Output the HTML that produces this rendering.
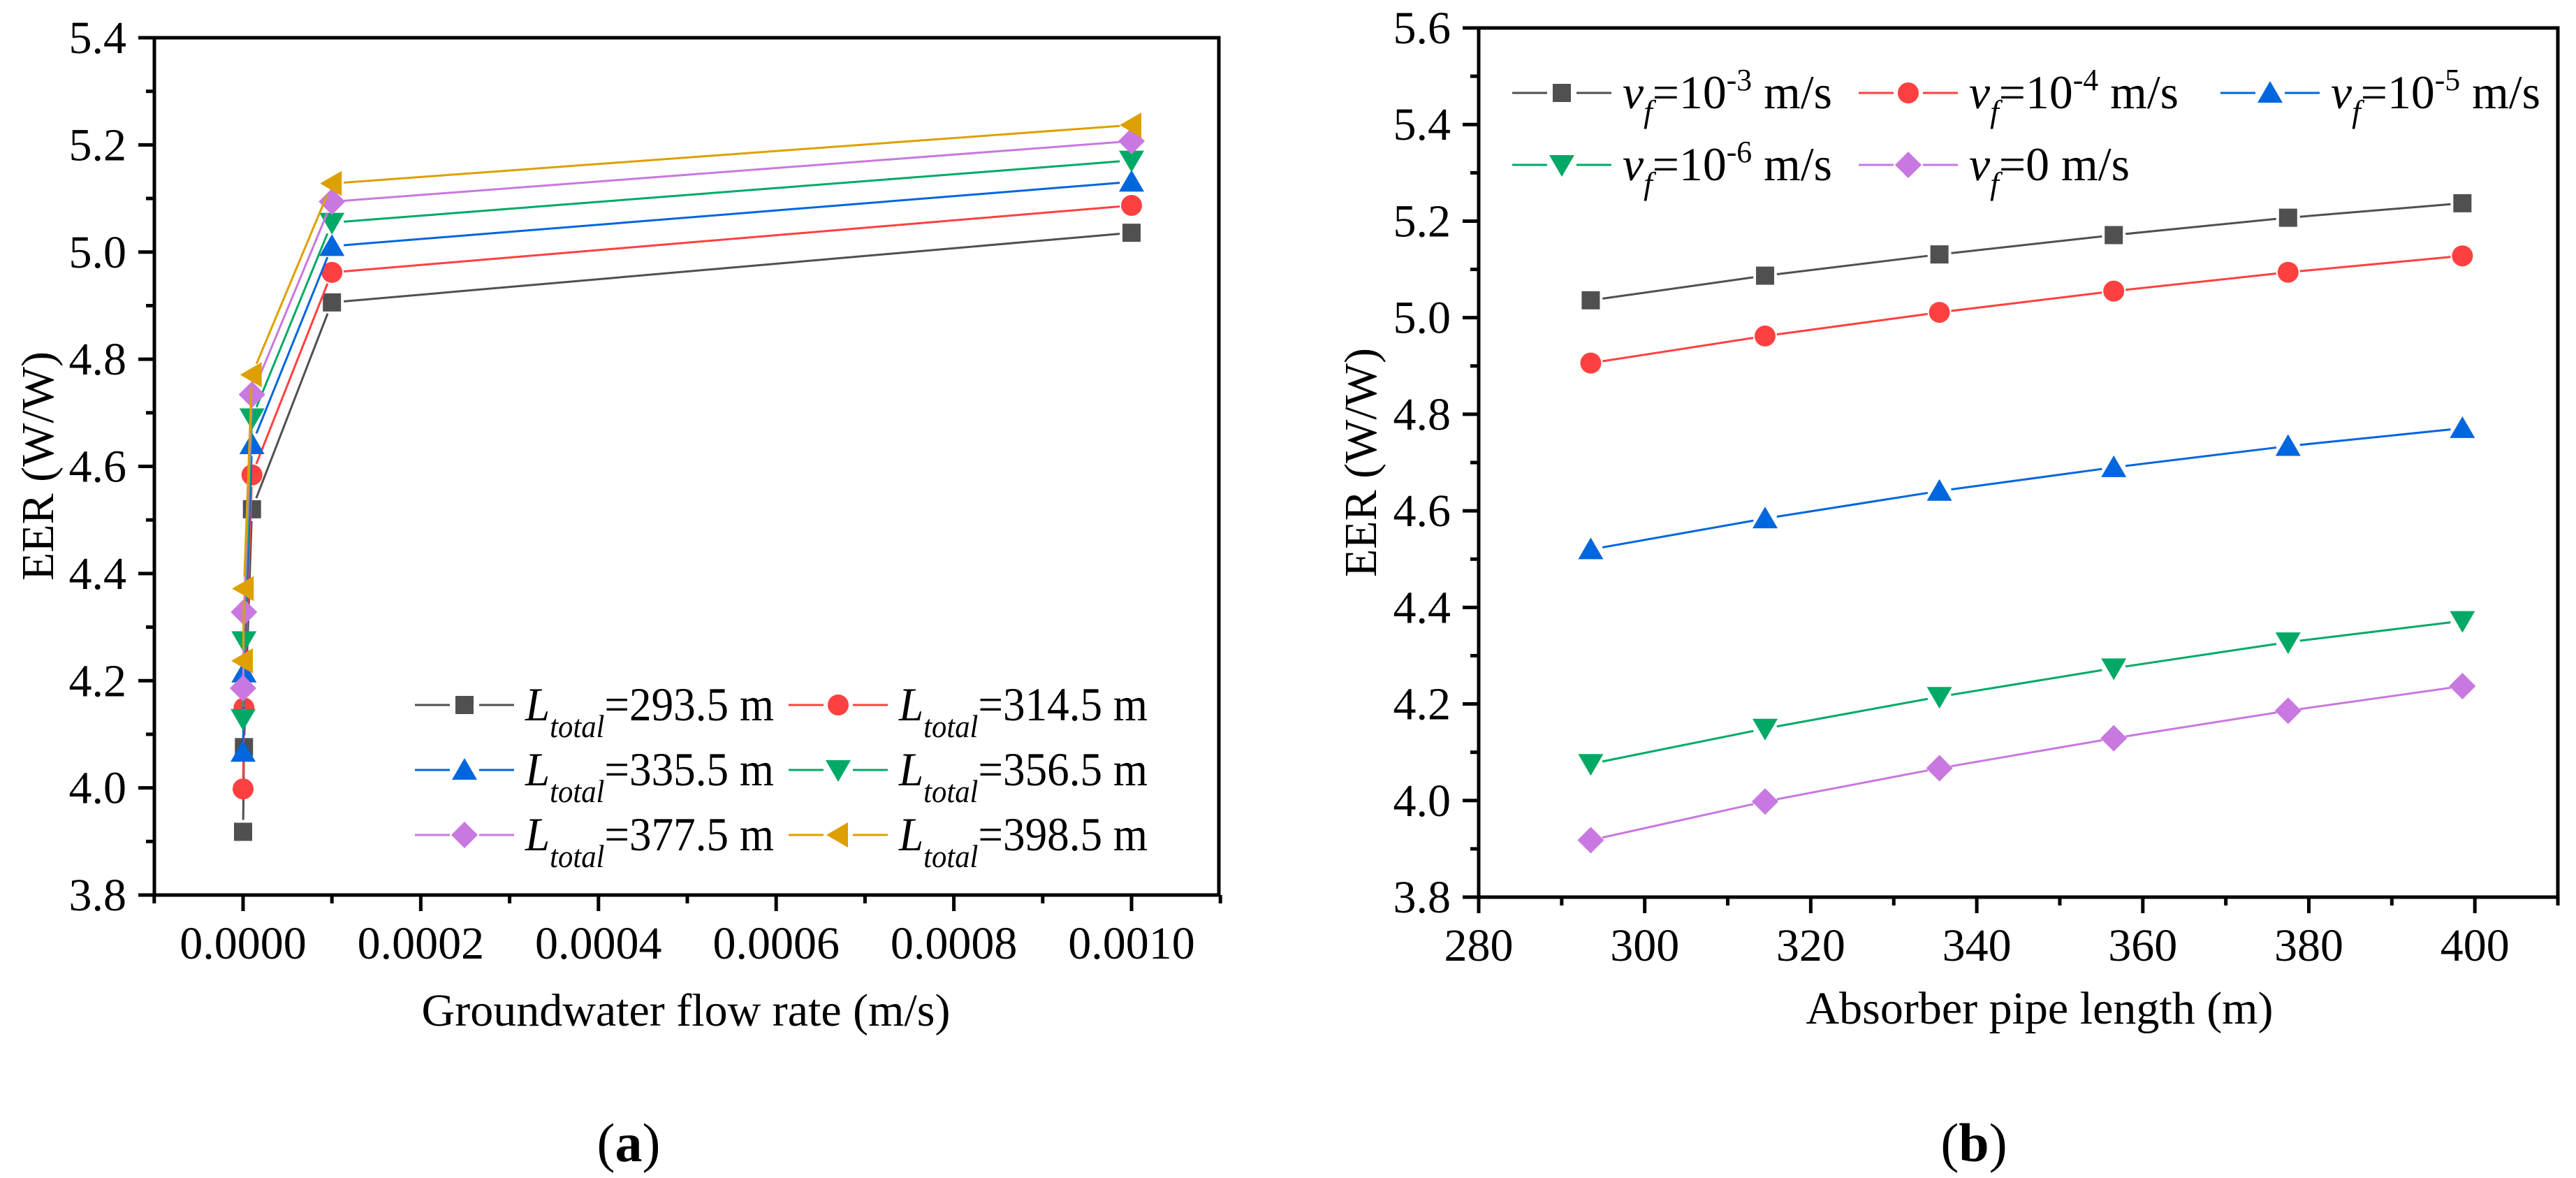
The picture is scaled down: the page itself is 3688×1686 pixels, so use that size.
<!DOCTYPE html>
<html><head><meta charset="utf-8"><style>
html,body{margin:0;padding:0;background:#fff}
svg{display:block}
text{font-family:"Liberation Serif",serif;fill:#000}
</style></head><body>
<svg id="fig" width="3688" height="1686" viewBox="0 0 3688 1686" xmlns="http://www.w3.org/2000/svg">
<rect width="3688" height="1686" fill="#fff"/>
<g id="pa"></g>
<g id="pb"></g>
</svg>
<script>
// ---- data ----
const flowRates = [0, 0.000001, 0.00001, 0.0001, 0.001];
const lengths = [293.5, 314.5, 335.5, 356.5, 377.5, 398.5];
const eerV3 = [5.036, 5.087, 5.131, 5.171, 5.207, 5.237];
const eerV4 = [4.906, 4.962, 5.011, 5.055, 5.094, 5.128];
const eerV5 = [4.520, 4.584, 4.641, 4.690, 4.734, 4.771];
const eerV6 = [4.076, 4.149, 4.215, 4.274, 4.328, 4.372];
const eerV0 = [3.918, 3.998, 4.067, 4.129, 4.186, 4.237];
const xTicksA = ["0.0000","0.0002","0.0004","0.0006","0.0008","0.0010"];
const xTickValsA = [0, 0.0002, 0.0004, 0.0006, 0.0008, 0.001];
const yTicksA = [3.8,4.0,4.2,4.4,4.6,4.8,5.0,5.2,5.4];
const xTicksB = [280,300,320,340,360,380,400];
const yTicksB = [3.8,4.0,4.2,4.4,4.6,4.8,5.0,5.2,5.4,5.6];

const NS="http://www.w3.org/2000/svg";
const colors=["#505050","#FF4040","#0066DD","#00AA66","#C878E0","#DDA000"];
const markers=["square","circle","up","down","diamond","left"];
function el(tag,attrs,parent){const e=document.createElementNS(NS,tag);for(const k in attrs)e.setAttribute(k,attrs[k]);parent.appendChild(e);return e;}
function marker(g,type,cx,cy,color){
  let e;
  if(type==="square") e=el("rect",{x:cx-13,y:cy-13,width:26,height:26,fill:color},g);
  else if(type==="circle") e=el("ellipse",{cx:cx,cy:cy,rx:15,ry:15,fill:color},g);
  else if(type==="up") e=el("polygon",{points:`${cx},${cy-17} ${cx+18},${cy+14} ${cx-18},${cy+14}`,fill:color},g);
  else if(type==="down") e=el("polygon",{points:`${cx},${cy+17} ${cx+18},${cy-14} ${cx-18},${cy-14}`,fill:color},g);
  else if(type==="diamond") e=el("polygon",{points:`${cx},${cy-19} ${cx+19},${cy} ${cx},${cy+19} ${cx-19},${cy}`,fill:color},g);
  else e=el("polygon",{points:`${cx-17},${cy} ${cx+14},${cy-18} ${cx+14},${cy+18}`,fill:color},g);
  
  
  return e;
}
function gapLine(g,pts,color){
  for(let i=0;i<pts.length-1;i++){
    const [x1,y1]=pts[i],[x2,y2]=pts[i+1];
    const d=Math.hypot(x2-x1,y2-y1); if(d<34) continue;
    const ux=(x2-x1)/d,uy=(y2-y1)/d,gp=17;
    const l=el("line",{x1:x1+ux*gp,y1:y1+uy*gp,x2:x2-ux*gp,y2:y2-uy*gp,stroke:color,"stroke-width":3},g);
    
    
  }
}
function axes(g,L,R,T,B,xs,ys,xMin,xMax,xMajor,xMinorStep,yTicks,xTickLabels,xTickVals){
  const fr=el("rect",{x:L,y:T,width:R-L,height:B-T,fill:"none",stroke:"#000","stroke-width":5},g);
  
  
  for(let v=xMin; v<=xMax+1e-12; v+=xMinorStep){
    const x=xs(v); const isMajor=xTickVals.some(t=>Math.abs(t-v)<xMinorStep*0.01);
    el("line",{x1:x,y1:B,x2:x,y2:B+(isMajor?23:12),stroke:"#000","stroke-width":5},g);
  }
  xTickVals.forEach((v,i)=>{
    const t=el("text",{x:xs(v),y:B+91,"font-size":66,"text-anchor":"middle"},g);
    t.textContent=xTickLabels[i];
    
    
  });
  for(let i=0;i<yTicks.length;i++){
    const y=ys(yTicks[i]);
    el("line",{x1:L-23,y1:y,x2:L,y2:y,stroke:"#000","stroke-width":5},g);
    if(i<yTicks.length-1){const ym=ys((yTicks[i]+yTicks[i+1])/2);el("line",{x1:L-12,y1:ym,x2:L,y2:ym,stroke:"#000","stroke-width":5},g);}
    const t=el("text",{x:L-40,y:y+22,"font-size":66,"text-anchor":"end"},g);
    t.textContent=yTicks[i].toFixed(1);
    
    
  }
}
function legendEntry(g,x0,y,color,type,build,len){
  el("line",{x1:x0,y1:y,x2:x0+142,y2:y,stroke:color,"stroke-width":3},g);
  el("rect",{x:x0+50,y:y-22,width:42,height:44,fill:"#fff"},g);
  marker(g,type,x0+71,y,color);
  const attrs={x:x0+158,y:y+22,"font-size":68};
  if(len){attrs.textLength=len;attrs.lengthAdjust="spacingAndGlyphs";}
  const t=el("text",attrs,g);
  
  
  build(t);
}
function ts(t,txt,attrs){const s=el("tspan",attrs||{},t);s.textContent=txt;return s;}

// ---- Panel A ----
(function(){
  const g=document.getElementById("pa");
  const L=221,R=1745,T=54,B=1281;
  const xs=v=>348+(v/0.0001)*127.2;
  const ys=v=>B-(v-3.8)/1.6*(B-T);
  axes(g,L,R,T,B,xs,ys,-0.0001,0.0011,0.0002,0.0001,yTicksA,xTicksA,xTickValsA);
  const series=[eerV0,eerV6,eerV5,eerV4,eerV3];
  for(let s=0;s<lengths.length;s++){
    const sg=el("g",{},g);
    
    
    const pts=flowRates.map((f,i)=>[xs(f),ys(series[i][s])]);
    gapLine(sg,pts,colors[s]);
    pts.forEach(p=>marker(sg,markers[s],p[0],p[1],colors[s]));
  }
  const lg=el("g",{},g);
  
  
  const rows=[1009,1102,1195], cols=[594,1129];
  lengths.forEach((len,i)=>{
    legendEntry(lg,cols[i%2],rows[Math.floor(i/2)],colors[i],markers[i],t=>{
      ts(t,"L",{"font-style":"italic"});
      ts(t,"total",{"font-style":"italic","font-size":46,dy:24});
      ts(t,"="+len.toFixed(1)+" m",{dy:-24});
    },356);
  });
  let t=el("text",{x:982,y:1468,"font-size":66,"text-anchor":"middle"},g);
  t.textContent="Groundwater flow rate (m/s)";
  
  t=el("text",{x:0,y:0,"font-size":66,"text-anchor":"middle",transform:"translate(76,667) rotate(-90)"},g);
  t.textContent="EER (W/W)";
  
  t=el("text",{x:900,y:1662,"font-size":78,"text-anchor":"middle"},g);
  ts(t,"(");ts(t,"a",{"font-weight":"bold"});ts(t,")");
  
})();

// ---- Panel B ----
(function(){
  const g=document.getElementById("pb");
  const L=2117,R=3662,T=40,B=1284;
  const xs=v=>L+(v-280)/20*237.7;
  const ys=v=>B-(v-3.8)/1.8*(B-T);
  axes(g,L,R,T,B,xs,ys,280,410,20,10,yTicksB,xTicksB.map(String),xTicksB);
  const series=[eerV3,eerV4,eerV5,eerV6,eerV0];
  const names=["-3","-4","-5","-6",null];
  const ids=["1e-3","1e-4","1e-5","1e-6","0"];
  series.forEach((arr,s)=>{
    const sg=el("g",{},g);
    
    
    const pts=lengths.map((l,i)=>[xs(l),ys(arr[i])]);
    gapLine(sg,pts,colors[s]);
    pts.forEach(p=>marker(sg,markers[s],p[0],p[1],colors[s]));
  });
  const lg=el("g",{},g);
  
  
  const pos=[[2165,133],[2661,133],[3179,133],[2165,236],[2661,236]];
  series.forEach((arr,s)=>{
    legendEntry(lg,pos[s][0],pos[s][1],colors[s],markers[s],t=>{
      ts(t,"v",{"font-style":"italic"});
      ts(t,"f",{"font-style":"italic","font-size":46,dy:20});
      if(names[s]){
        ts(t,"=10",{dy:-20});
        ts(t,names[s],{"font-size":44,dy:-26});
        ts(t," m/s",{dy:26});
      } else ts(t,"=0 m/s",{dy:-20});
    }, names[s]?300:230);
  });
  let t=el("text",{x:2920,y:1465,"font-size":66,"text-anchor":"middle"},g);
  t.textContent="Absorber pipe length (m)";
  
  t=el("text",{x:0,y:0,"font-size":66,"text-anchor":"middle",transform:"translate(1970,662) rotate(-90)"},g);
  t.textContent="EER (W/W)";
  
  t=el("text",{x:2826,y:1662,"font-size":78,"text-anchor":"middle"},g);
  ts(t,"(");ts(t,"b",{"font-weight":"bold"});ts(t,")");
  
})();
</script>
</body></html>
